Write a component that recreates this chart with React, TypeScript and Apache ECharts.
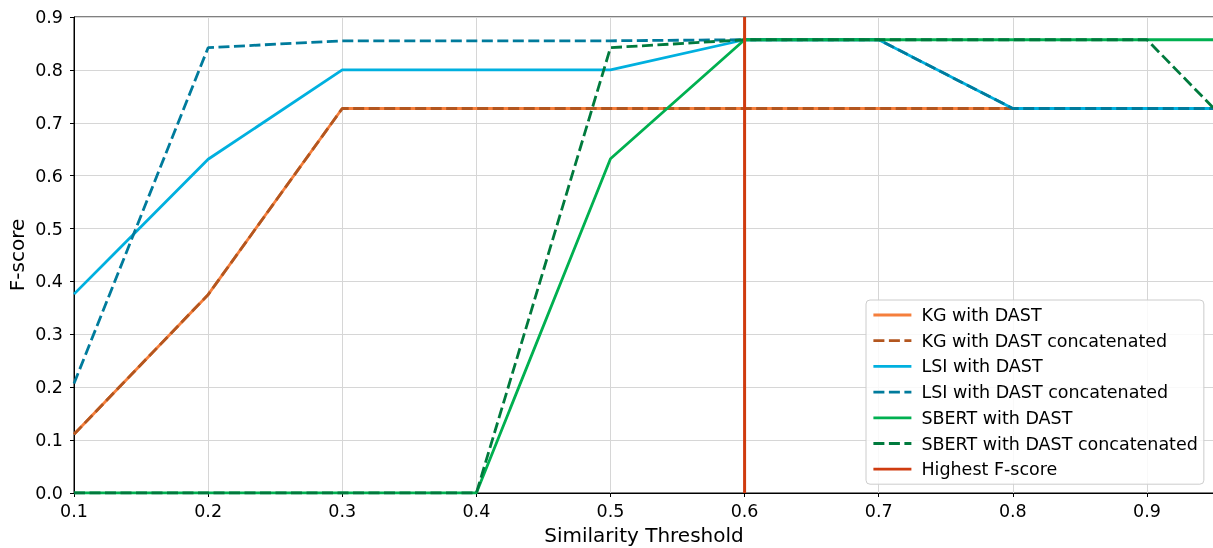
import React, { useEffect, useRef } from "react";
import * as echarts from "echarts";

const thresholds = [0.1, 0.2, 0.3, 0.4, 0.5, 0.6, 0.7, 0.8, 0.9, 0.95];
const kgDast = [0.111, 0.375, 0.727, 0.727, 0.727, 0.727, 0.727, 0.727, 0.727, 0.727];
const kgDastConcat = [0.111, 0.375, 0.727, 0.727, 0.727, 0.727, 0.727, 0.727, 0.727, 0.727];
const lsiDast = [0.376, 0.631, 0.8, 0.8, 0.8, 0.857, 0.857, 0.727, 0.727, 0.727];
const lsiDastConcat = [0.207, 0.842, 0.855, 0.855, 0.855, 0.857, 0.857, 0.727, 0.727, 0.727];
const sbertDast = [0, 0, 0, 0, 0.632, 0.857, 0.857, 0.857, 0.857, 0.857];
const sbertDastConcat = [0, 0, 0, 0, 0.842, 0.857, 0.857, 0.857, 0.857, 0.727];
const highestX = 0.6;
const highestY = [0, 0.9];

const FONT = "DejaVu Sans";

export default function App() {
  const ref = useRef<HTMLDivElement>(null);
  useEffect(() => {
    if (!ref.current) return;
    const chart = echarts.init(ref.current, undefined, { renderer: "svg" });
    const pair = (ys: number[]) => thresholds.map((x, i) => [x, ys[i]]);
    const mk = (name: string, ys: number[], color: string, dashed: boolean) => ({
      name,
      type: "line",
      data: pair(ys),
      symbol: "none",
      showSymbol: false,
      lineStyle: { color, width: 2.8, type: dashed ? [11, 4.5] : "solid" },
      itemStyle: { color },
      z: 3,
    });
    chart.setOption({
      animation: false,
      textStyle: { fontFamily: FONT },
      grid: {
        left: 74,
        top: 17,
        width: 1140,
        height: 476,
        show: true,
        borderColor: "#000",
        borderWidth: 1,
        containLabel: false,
        outerBoundsMode: "none",
      },
      xAxis: {
        type: "value",
        min: 0.1,
        max: 0.95,
        interval: 0.1,
        name: "Similarity Threshold",
        nameLocation: "middle",
        nameGap: 32,
        nameMoveOverlap: false,
        nameTextStyle: { fontFamily: FONT, fontSize: 20, color: "#000" },
        axisLine: { show: true, lineStyle: { color: "#000", width: 1 } },
        axisTick: { show: true, length: 4, lineStyle: { color: "#000" } },
        axisLabel: {
          fontFamily: FONT,
          fontSize: 17.5,
          color: "#000",
          margin: 9,
          formatter: (v: number) =>
            Math.abs(v * 10 - Math.round(v * 10)) < 1e-6 ? v.toFixed(1) : "",
        },
        splitLine: { show: true, lineStyle: { color: "#d6d6d6", width: 1 } },
      },
      yAxis: {
        type: "value",
        min: 0,
        max: 0.9,
        interval: 0.1,
        name: "F-score",
        nameLocation: "middle",
        nameGap: 47,
        nameMoveOverlap: false,
        nameTextStyle: { fontFamily: FONT, fontSize: 20, color: "#000" },
        axisLine: { show: true, lineStyle: { color: "#000", width: 1 } },
        axisTick: { show: true, length: 4, lineStyle: { color: "#000" } },
        axisLabel: {
          fontFamily: FONT,
          fontSize: 17.5,
          color: "#000",
          margin: 11,
          formatter: (v: number) => v.toFixed(1),
        },
        splitLine: { show: true, lineStyle: { color: "#d6d6d6", width: 1 } },
      },
      legend: {
        orient: "vertical",
        left: 866,
        top: 300,
        padding: [6, 6, 6, 6],
        itemWidth: 38,
        itemHeight: 14,
        itemGap: 7.7,
        itemStyle: { opacity: 0 },
        lineStyle: { width: 2.8 },
        backgroundColor: "rgba(255,255,255,0.85)",
        borderColor: "#cccccc",
        borderWidth: 1,
        borderRadius: 4,
        textStyle: { fontFamily: FONT, fontSize: 17.5, color: "#000", padding: [0, 0, 0, 5] },
        data: [
          "KG with DAST",
          "KG with DAST concatenated",
          "LSI with DAST",
          "LSI with DAST concatenated",
          "SBERT with DAST",
          "SBERT with DAST concatenated",
          "Highest F-score",
        ],
      },
      series: [
        mk("KG with DAST", kgDast, "#f57f3c", false),
        mk("KG with DAST concatenated", kgDastConcat, "#b3561f", true),
        mk("LSI with DAST", lsiDast, "#00b0df", false),
        mk("LSI with DAST concatenated", lsiDastConcat, "#007b9c", true),
        mk("SBERT with DAST", sbertDast, "#00b050", false),
        mk("SBERT with DAST concatenated", sbertDastConcat, "#007a3d", true),
        {
          name: "Highest F-score",
          type: "line",
          data: highestY.map((y) => [highestX, y]),
          symbol: "none",
          showSymbol: false,
          lineStyle: { color: "#cf3b0f", width: 3 },
          itemStyle: { color: "#cf3b0f" },
          z: 4,
        },
      ],
    });
    return () => chart.dispose();
  }, []);
  return (
    <div
      ref={ref}
      style={{ position: "fixed", left: 0, top: 0, width: 1213, height: 548 }}
    />
  );
}
